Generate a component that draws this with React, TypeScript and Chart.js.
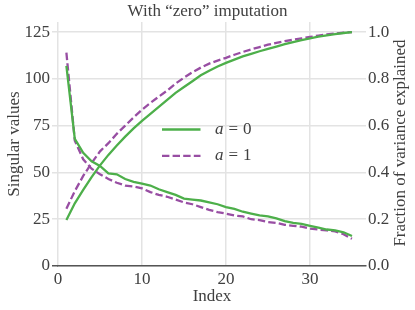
import React, { useEffect, useRef } from "react";
import { Chart, registerables } from "chart.js";

Chart.register(...registerables);

// ---- data ----
const indices = [1, 2, 3, 4, 5, 6, 7, 8, 9, 10, 11, 12, 13, 14, 15, 16, 17, 18, 19, 20, 21, 22, 23, 24, 25, 26, 27, 28, 29, 30, 31, 32, 33, 34, 35];

const singularA0 = [107, 68, 60.5, 56, 53.5, 49.5, 49, 46.5, 45, 44, 43, 41, 39.5, 38, 36, 35.5, 35, 34, 33, 31.5, 30.5, 29, 28, 27, 26.5, 25.5, 24, 23, 22.5, 21.5, 20.5, 19.5, 19, 18, 16];
const singularA1 = [114, 67, 57, 52, 49, 46.5, 44.5, 43, 42.5, 41.5, 39.5, 38, 37, 35.5, 34, 33, 31.5, 30, 28.8, 28, 27, 26.5, 25, 24.5, 23.5, 23, 22, 21.5, 21, 20, 19.5, 19, 18.5, 17, 14.5];

const cumVarA0 = [0.197, 0.268, 0.325, 0.38, 0.43, 0.475, 0.515, 0.553, 0.588, 0.62, 0.65, 0.68, 0.71, 0.74, 0.765, 0.79, 0.815, 0.835, 0.853, 0.868, 0.882, 0.896, 0.907, 0.918, 0.928, 0.938, 0.948, 0.957, 0.965, 0.973, 0.98, 0.986, 0.991, 0.996, 1.0];
const cumVarA1 = [0.245, 0.32, 0.385, 0.44, 0.49, 0.525, 0.565, 0.6, 0.635, 0.668, 0.697, 0.724, 0.75, 0.78, 0.805, 0.828, 0.848, 0.865, 0.878, 0.89, 0.903, 0.915, 0.926, 0.936, 0.946, 0.954, 0.961, 0.967, 0.973, 0.979, 0.985, 0.99, 0.994, 0.997, 1.0];

const xTicks = [0, 10, 20, 30];
const leftTicks = [0, 25, 50, 75, 100, 125];
const rightTicks = [0, 0.2, 0.4, 0.6, 0.8, 1.0];

const legendLabels = ["0", "1"];

const TITLE = "With \u201czero\u201d imputation";
const X_TITLE = "Index";
const Y_TITLE = "Singular values";
const Y1_TITLE = "Fraction of variance explained";

// ---- style ----
const FONT = "'Liberation Serif', 'DejaVu Serif', serif";
const FS = 17;
const TEXT = "#404040";
const GRID = "#e3e3e3";
const DARK = "#555555";
const GREEN = "#4daf4a";
const PURPLE = "#984ea3";
const DASH = [7.4, 3.2];
const LW = 2.3;

const pts = (ys: number[]) => indices.map((x, i) => ({ x, y: ys[i] }));

const overlay = {
  id: "overlay",
  afterDraw(chart: any) {
    const { ctx, chartArea } = chart;
    ctx.save();
    // right axis title, reading bottom to top
    ctx.fillStyle = TEXT;
    ctx.font = `${FS}px ${FONT}`;
    ctx.textAlign = "center";
    ctx.textBaseline = "middle";
    ctx.translate(401, (chartArea.top + chartArea.bottom) / 2 - 1);
    ctx.rotate(-Math.PI / 2);
    ctx.fillText(Y1_TITLE, 0, 0);
    ctx.restore();

    // legend
    const items = [
      { color: GREEN, dash: [] as number[], label: legendLabels[0] },
      { color: PURPLE, dash: DASH, label: legendLabels[1] },
    ];
    const lx = chartArea.left + 104;
    items.forEach((it, k) => {
      const y = chartArea.top + 107.5 + k * 26.3;
      ctx.save();
      ctx.strokeStyle = it.color;
      ctx.lineWidth = LW;
      ctx.setLineDash(it.dash);
      ctx.beginPath();
      ctx.moveTo(lx, y);
      ctx.lineTo(lx + 38.5, y);
      ctx.stroke();
      ctx.setLineDash([]);
      ctx.fillStyle = TEXT;
      ctx.textBaseline = "middle";
      ctx.textAlign = "left";
      let tx = lx + 53;
      ctx.font = `italic ${FS}px ${FONT}`;
      ctx.fillText("a", tx, y);
      tx += ctx.measureText("a").width + 5;
      ctx.font = `${FS}px ${FONT}`;
      ctx.fillText("=", tx, y);
      tx += ctx.measureText("=").width + 5;
      ctx.fillText(it.label, tx, y);
      ctx.restore();
    });
  },
};

export default function App() {
  const ref = useRef<HTMLCanvasElement>(null);
  useEffect(() => {
    const font = { family: FONT, size: FS };
    const chart = new Chart(ref.current as HTMLCanvasElement, {
      type: "line",
      data: {
        datasets: [
          { label: "sv a=0", data: pts(singularA0), yAxisID: "y", borderColor: GREEN, borderWidth: LW, pointRadius: 0, fill: false },
          { label: "sv a=1", data: pts(singularA1), yAxisID: "y", borderColor: PURPLE, borderWidth: LW, borderDash: DASH, pointRadius: 0, fill: false },
          { label: "cv a=0", data: pts(cumVarA0), yAxisID: "y1", borderColor: GREEN, borderWidth: LW, pointRadius: 0, fill: false },
          { label: "cv a=1", data: pts(cumVarA1), yAxisID: "y1", borderColor: PURPLE, borderWidth: LW, borderDash: DASH, pointRadius: 0, fill: false },
        ],
      } as any,
      options: {
        animation: false,
        responsive: false,
        events: [],
        layout: { padding: 0 },
        plugins: {
          legend: { display: false },
          tooltip: { enabled: false },
          title: { display: true, text: TITLE, font: { family: FONT, size: FS, weight: "normal" }, color: TEXT, padding: { top: 1, bottom: 0.6 } },
        },
        scales: {
          x: {
            type: "linear",
            min: 0,
            max: 36.67,
            afterBuildTicks: (s: any) => { s.ticks = xTicks.map((v) => ({ value: v })); },
            afterFit: (s: any) => { s.height = 44; },
            grid: { color: GRID, lineWidth: 1.5, drawTicks: false },
            border: { display: true, color: DARK, width: 1.6 },
            ticks: { font, color: TEXT, padding: 3, maxRotation: 0 },
            title: { display: true, text: X_TITLE, font, color: TEXT, padding: { top: 0, bottom: 3 } },
          },
          y: {
            position: "left",
            min: 0,
            max: 130.4,
            afterBuildTicks: (s: any) => { s.ticks = leftTicks.map((v) => ({ value: v })); },
            afterFit: (s: any) => { s.width = 58; },
            grid: {
              color: GRID,
              lineWidth: 1.5,
              tickLength: 6,
              tickColor: (c: any) => (c.tick && c.tick.value === 0 ? DARK : GRID),
            },
            border: { display: false },
            ticks: { font, color: TEXT, padding: 2 },
            title: { display: true, text: Y_TITLE, font, color: TEXT, padding: { top: 4.8, bottom: 0 } },
          },
          y1: {
            position: "right",
            min: 0,
            max: 1.043,
            afterBuildTicks: (s: any) => { s.ticks = rightTicks.map((v) => ({ value: v })); },
            afterFit: (s: any) => { s.width = 49; },
            grid: { display: false, drawOnChartArea: false, drawTicks: false },
            border: { display: false },
            ticks: { font, color: TEXT, padding: 2, callback: (v: any) => Number(v).toFixed(1) },
          },
        },
      } as any,
      plugins: [overlay],
    });
    return () => chart.destroy();
  }, []);
  return (
    <div style={{ position: "fixed", left: 0, top: 0, width: 415, height: 310, background: "#fff" }}>
      <canvas ref={ref} width={415} height={310} style={{ width: 415, height: 310, display: "block" }} />
    </div>
  );
}
